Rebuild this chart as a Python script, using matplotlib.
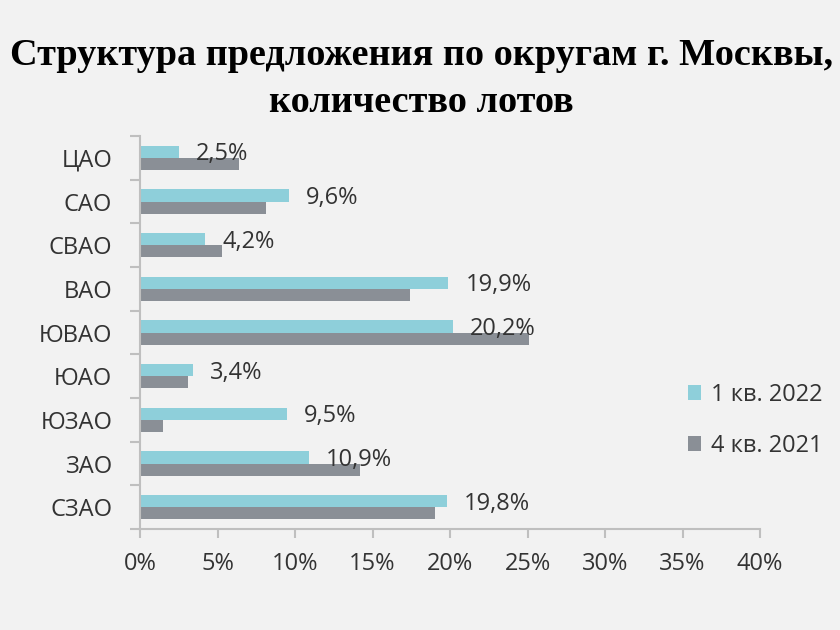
import matplotlib
matplotlib.use("Agg")
import matplotlib.pyplot as plt
import numpy as np

categories = ["ЦАО", "САО", "СВАО", "ВАО", "ЮВАО", "ЮАО", "ЮЗАО", "ЗАО", "СЗАО"]
q1_2022 = [2.5, 9.6, 4.2, 19.9, 20.2, 3.4, 9.5, 10.9, 19.8]
q4_2021 = [6.4, 8.1, 5.3, 17.4, 25.1, 3.1, 1.5, 14.2, 19.0]
labels_2022 = ["2,5%", "9,6%", "4,2%", "19,9%", "20,2%", "3,4%", "9,5%", "10,9%", "19,8%"]
xticks = [0, 5, 10, 15, 20, 25, 30, 35, 40]

bg = "#f2f2f2"
cyan = "#8ecfda"
gray = "#8a8f96"
axis_col = "#bfbfbf"
txt_col = "#333333"
fam = ["Open Sans", "DejaVu Sans"]
title_fam = ["Liberation Serif", "DejaVu Serif"]

fig = plt.figure(figsize=(8.4, 6.3), dpi=100, facecolor=bg)
ax = fig.add_axes([0.1667, 0.1603, 0.7381, 0.6238], facecolor=bg)

y = np.arange(len(categories))
h = 0.28
ax.barh(y - h / 2, q1_2022, height=h, color=cyan, label="1 кв. 2022")
ax.barh(y + h / 2, q4_2021, height=h, color=gray, label="4 кв. 2021")

# data labels for the 2022 series
for yi, v, t in zip(y, q1_2022, labels_2022):
    ax.text(v + 1.1, yi - 0.08, t, va="center", ha="left", fontsize=17,
            color=txt_col, family=fam)

ax.set_ylim(len(categories) - 0.5, -0.5)
ax.set_xlim(0, 40)
ax.set_yticks(y)
ax.set_yticklabels(categories, family=fam, fontsize=17, color=txt_col)
ax.set_yticks(np.arange(len(categories) + 1) - 0.5, minor=True)
ax.tick_params(axis="y", which="major", length=0, pad=20)
ax.tick_params(axis="y", which="minor", length=7, color=axis_col, width=1.5)
ax.set_xticks(xticks)
ax.set_xticklabels([f"{t}%" for t in xticks], family=fam, fontsize=17, color=txt_col)
ax.tick_params(axis="x", length=6.5, color=axis_col, width=1.5, pad=10)

for s in ["top", "right"]:
    ax.spines[s].set_visible(False)
for s in ["left", "bottom"]:
    ax.spines[s].set_color(axis_col)
    ax.spines[s].set_linewidth(1.5)

leg = fig.legend(loc="upper left", bbox_to_anchor=(676 / 840, 1 - 371 / 630),
                 frameon=False, borderpad=0, prop={"family": fam, "size": 17},
                 handlelength=0.55, handleheight=0.55, handletextpad=0.45,
                 labelspacing=1.15)
for t in leg.get_texts():
    t.set_color(txt_col)

fig.text(0.502, 1 - 65 / 630, "Структура предложения по округам г. Москвы,",
         ha="center", va="baseline", fontsize=27.5, fontweight="bold",
         family=title_fam, color="#000000")
fig.text(0.502, 1 - 112 / 630, "количество лотов",
         ha="center", va="baseline", fontsize=27.5, fontweight="bold",
         family=title_fam, color="#000000")

fig.savefig("out.png", dpi=100, facecolor=bg)
